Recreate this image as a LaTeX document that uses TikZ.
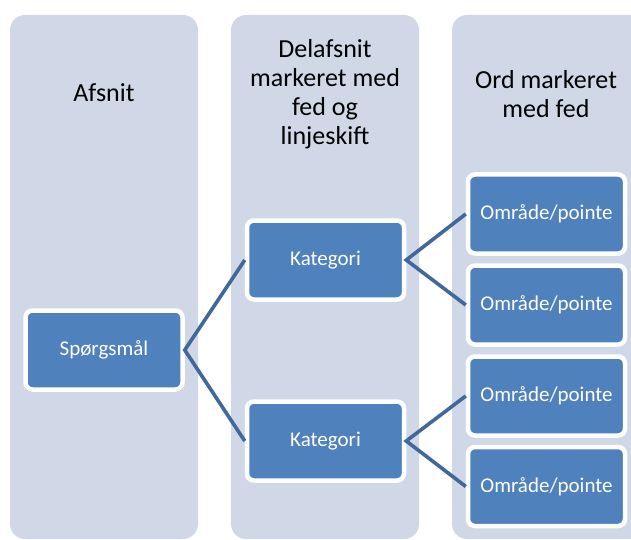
\documentclass[tikz,border=0pt]{standalone}
\usepackage{fontspec}
\setmainfont{Carlito}
\definecolor{colfill}{HTML}{D0D8E8}
\definecolor{boxblue}{HTML}{4F81BD}
\definecolor{linkblue}{HTML}{41679B}
\begin{document}
\begin{tikzpicture}[x=1pt,y=-1pt,
  column/.style={fill=colfill,rounded corners=15pt},
  title/.style={align=center,font=\fontsize{26}{29}\selectfont,text=black},
  itembox/.style={fill=boxblue,draw=white,line width=4.5pt,rounded corners=7pt,
    minimum width=157pt,minimum height=79pt,inner sep=0pt,
    font=\fontsize{21}{24}\selectfont,text=white},
  link/.style={draw=linkblue,line width=3.6pt}]
\useasboundingbox (0,0) rectangle (631,540);
\clip (0,0) rectangle (631,540);
\fill[column] (10,15) rectangle (198,539);
\fill[column] (231,15) rectangle (419,539);
\fill[column] (452,15) rectangle (650,539);
\node[title] (t1) at (104,93) {Afsnit};
\node[title] (t2) at (325,94) {Delafsnit\\markeret med\\fed og\\linjeskift};
\node[title] (t3) at (546,94) {Ord markeret\\med fed};
\node[itembox] (q) at (104,350) {Spørgsmål};
\node[itembox] (k1) at (325.5,260) {Kategori};
\node[itembox] (k2) at (325.5,441) {Kategori};
\node[itembox] (o1) at (546.5,214) {Område/pointe};
\node[itembox] (o2) at (546.5,305) {Område/pointe};
\node[itembox] (o3) at (546.5,396) {Område/pointe};
\node[itembox] (o4) at (546.5,486.5) {Område/pointe};
\draw[link] (k1.west) -- (q.east) -- (k2.west);
\draw[link] (o1.west) -- (k1.east) -- (o2.west);
\draw[link] (o3.west) -- (k2.east) -- (o4.west);
\end{tikzpicture}
\end{document}
